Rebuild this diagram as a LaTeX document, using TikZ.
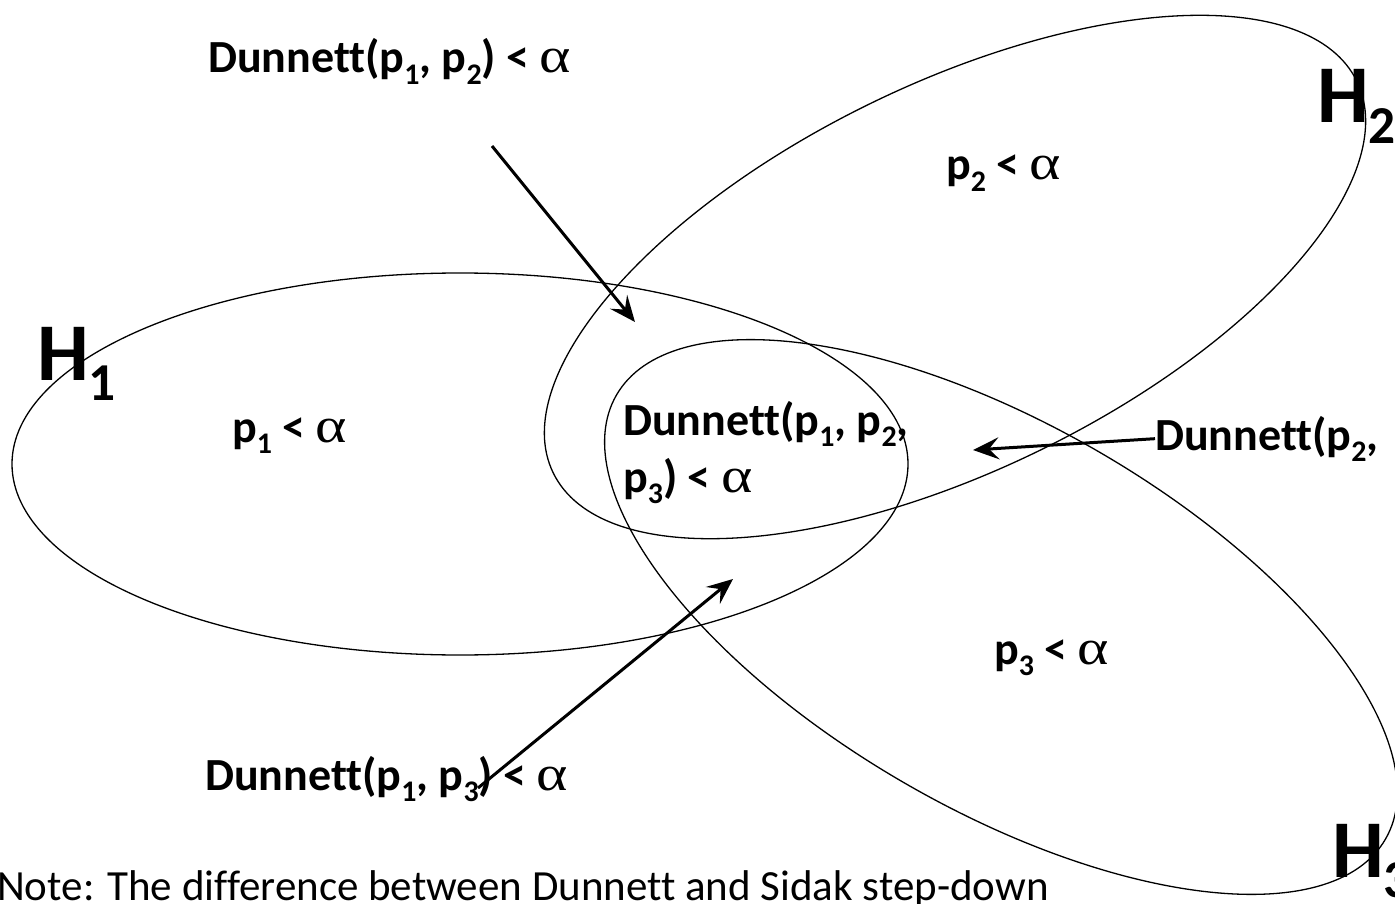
\documentclass[tikz,border=0pt]{standalone}
\usepackage{fontspec}
\setmainfont[Ligatures=NoCommon]{Carlito}
\newfontfamily\alphafont{Liberation Serif}
\usetikzlibrary{arrows.meta}

\newcommand{\lowidx}[1]{\raisebox{-0.25em}{\scalebox{0.65}{#1}}}
\newcommand{\alp}{\scalebox{1.3}[1.08]{\alphafont\mdseries α}}

\begin{document}
\begin{tikzpicture}[x=1pt, y=-1pt,
    hset/.style={line width=1.3pt},
    cond/.style={font=\bfseries\fontsize{46}{57}\selectfont, inner sep=0pt, anchor=base west, align=left},
    hname/.style={font=\bfseries\fontsize{82}{82}\selectfont, inner sep=0pt, anchor=base west},
    note/.style={font=\fontsize{43}{50}\selectfont, inner sep=0pt, anchor=base west},
    pointer/.style={line width=3pt, -{Stealth[length=26pt, width=22pt, inset=10pt]}}]
  \clip (0,0) rectangle (1395,904);

  % Hypothesis regions
  \draw[hset] (460,464) ellipse [x radius=448, y radius=191];
  \draw[hset, rotate around={26:(955,277)}] (955,277) ellipse [x radius=447, y radius=193];
  \draw[hset, rotate around={-30:(1001,617)}] (1001,617) ellipse [x radius=444, y radius=192];

  % Region names
  \node[hname] (h1) at (37,380) {H\lowidx{1}};
  \node[hname] (h2) at (1317,123) {H\lowidx{2}};
  \node[hname] (h3) at (1332,877) {H\lowidx{3}};

  % Single tests
  \node[cond] (p1) at (232,442) {p\lowidx{1} < \alp};
  \node[cond] (p2) at (946,180) {p\lowidx{2} < \alp};
  \node[cond] (p3) at (994,664) {p\lowidx{3} < \alp};

  % Dunnett tests
  \node[cond] (d12) at (208,73) {Dunnett(p\lowidx{1}, p\lowidx{2}) < \alp};
  \node[cond] (d13) at (205,790) {Dunnett(p\lowidx{1}, p\lowidx{3}) < \alp};
  \node[cond] (d23) at (1155,450) {Dunnett(p\lowidx{2},};
  \node[cond] (d123) at (623,492) {Dunnett(p\lowidx{1}, p\lowidx{2},\\p\lowidx{3}) < \alp};

  \node[note] (remark) at (-3,900) {Note: The difference between Dunnett and Sidak step-down};

  % Arrows into the intersections
  \coordinate (d12 tail) at (492,146);
  \coordinate (d12 tip) at (635,322);
  \coordinate (d23 tip) at (973,450);
  \coordinate (d13 tail) at (478,788);
  \coordinate (d13 tip) at (733,579);
  \draw[pointer] (d12 tail) -- (d12 tip);
  \draw[pointer] (d23.west) -- (d23 tip);
  \draw[pointer] (d13 tail) -- (d13 tip);
\end{tikzpicture}
\end{document}
